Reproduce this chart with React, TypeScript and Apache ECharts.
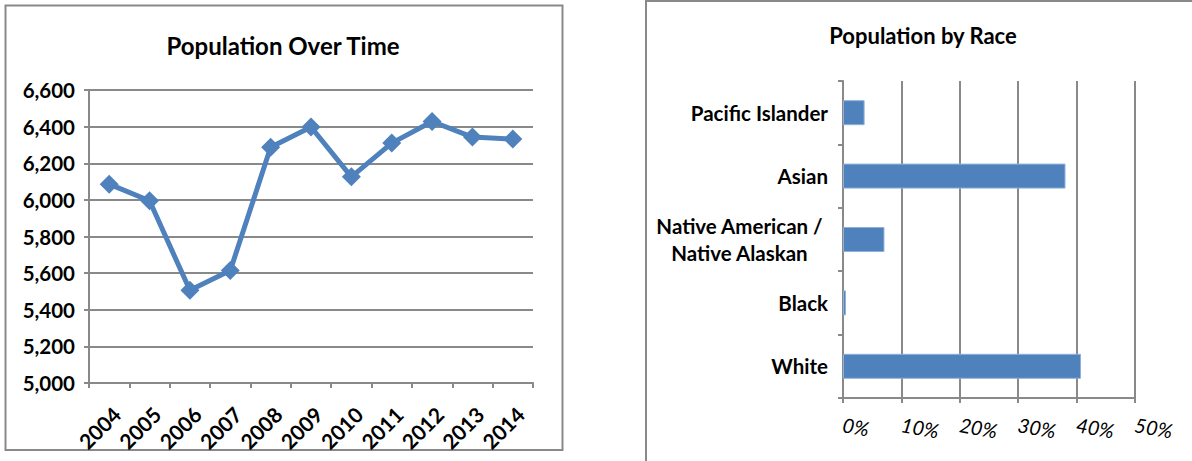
import React, { useEffect, useRef } from "react";
import * as echarts from "echarts";

// Population over time (line chart)
const years = ["2004", "2005", "2006", "2007", "2008", "2009", "2010", "2011", "2012", "2013", "2014"];
const population = [6086, 5995, 5506, 5614, 6287, 6398, 6126, 6310, 6428, 6343, 6332];

// Population share by race (bar chart), listed bottom to top
const races = ["White", "Black", "Native American /\nNative Alaskan", "Asian", "Pacific Islander"];
const raceShare = [0.4075, 0.005, 0.071, 0.381, 0.037];

const BLUE = "#4F81BD";
const GRAY = "#898989";
const FONT = "Lato, 'Noto Sans', sans-serif";

// Two-line category names are centred line by line inside a right-aligned block
const raceLabel = (name: string) =>
  name.includes("\n")
    ? name
        .split("\n")
        .map((line) => `{c|${line}}`)
        .join("\n")
    : name;

export default function App() {
  const ref = useRef<HTMLDivElement>(null);

  useEffect(() => {
    document.body.style.margin = "0";
    const chart = echarts.init(ref.current!, undefined, { renderer: "svg" });
    chart.setOption({
      animation: false,
      backgroundColor: "#ffffff",
      textStyle: { fontFamily: FONT },
      graphic: [
        {
          type: "rect",
          shape: { x: 5.5, y: 5.5, width: 557, height: 444.5 },
          style: { fill: "none", stroke: GRAY, lineWidth: 2 },
          silent: true,
        },
        {
          type: "rect",
          shape: { x: 646, y: 1, width: 600, height: 520 },
          style: { fill: "none", stroke: GRAY, lineWidth: 2 },
          silent: true,
        },
        {
          type: "text",
          x: 283,
          y: 45,
          style: {
            text: "Population Over Time",
            fontFamily: FONT,
            fontWeight: "bold",
            fontSize: 24,
            fill: "#000",
            align: "center",
            verticalAlign: "middle",
          },
        },
        {
          type: "text",
          x: 923,
          y: 35,
          style: {
            text: "Population by Race",
            fontFamily: FONT,
            fontWeight: "bold",
            fontSize: 22,
            fill: "#000",
            align: "center",
            verticalAlign: "middle",
          },
        },
      ],
      grid: [
        { left: 89, top: 90, width: 444, height: 293 },
        { left: 843, top: 81, width: 292, height: 317 },
      ],
      xAxis: [
        {
          gridIndex: 0,
          type: "category",
          data: years,
          boundaryGap: true,
          axisLine: { lineStyle: { color: GRAY, width: 2 } },
          axisTick: { show: true, length: 5, lineStyle: { color: GRAY, width: 2 } },
          axisLabel: {
            rotate: 45,
            margin: 20,
            verticalAlign: "top",
            color: "#000",
            fontWeight: "bold",
            fontSize: 21,
            fontFamily: FONT,
            interval: 0,
          },
          splitLine: { show: false },
        },
        {
          gridIndex: 1,
          type: "value",
          min: 0,
          max: 0.5,
          interval: 0.1,
          axisLine: { show: true, lineStyle: { color: GRAY, width: 2 } },
          axisTick: { show: true, length: 5, lineStyle: { color: GRAY, width: 2 } },
          axisLabel: {
            rotate: -10,
            margin: 26,
            color: "#000",
            fontStyle: "italic",
            fontSize: 20,
            fontFamily: FONT,
            formatter: (v: number) => `${Math.round(v * 100)}%`,
          },
          splitLine: { show: true, lineStyle: { color: GRAY, width: 2 } },
        },
      ],
      yAxis: [
        {
          gridIndex: 0,
          type: "value",
          min: 5000,
          max: 6600,
          interval: 200,
          axisLine: { show: true, lineStyle: { color: GRAY, width: 2 } },
          axisTick: { show: true, length: 5, lineStyle: { color: GRAY, width: 2 } },
          axisLabel: {
            margin: 14,
            color: "#000",
            fontWeight: "bold",
            fontSize: 20.5,
            fontFamily: FONT,
            formatter: (v: number) => v.toLocaleString("en-US"),
          },
          splitLine: { show: true, lineStyle: { color: GRAY, width: 2 } },
        },
        {
          gridIndex: 1,
          type: "category",
          data: races,
          axisLine: { show: true, lineStyle: { color: GRAY, width: 2 } },
          axisTick: { show: true, length: 5, lineStyle: { color: GRAY, width: 2 } },
          axisLabel: {
            margin: 15,
            color: "#000",
            fontWeight: "bold",
            fontSize: 20.5,
            lineHeight: 27,
            align: "right",
            fontFamily: FONT,
            formatter: raceLabel,
            rich: {
              c: {
                width: 177,
                align: "center",
                fontWeight: "bold",
                fontSize: 20.5,
                lineHeight: 27,
                color: "#000",
                fontFamily: FONT,
              },
            },
          },
          splitLine: { show: false },
        },
      ],
      series: [
        {
          type: "line",
          xAxisIndex: 0,
          yAxisIndex: 0,
          data: population,
          symbol: "diamond",
          symbolSize: 19,
          lineStyle: { color: BLUE, width: 5 },
          itemStyle: { color: BLUE },
        },
        {
          type: "bar",
          xAxisIndex: 1,
          yAxisIndex: 1,
          data: raceShare,
          barWidth: 25,
          itemStyle: { color: BLUE, borderColor: "#8FB0DA", borderWidth: 1 },
        },
      ],
    });
    return () => chart.dispose();
  }, []);

  return (
    <div
      ref={ref}
      style={{ position: "fixed", left: 0, top: 0, width: 1192, height: 461, background: "#fff" }}
    />
  );
}
